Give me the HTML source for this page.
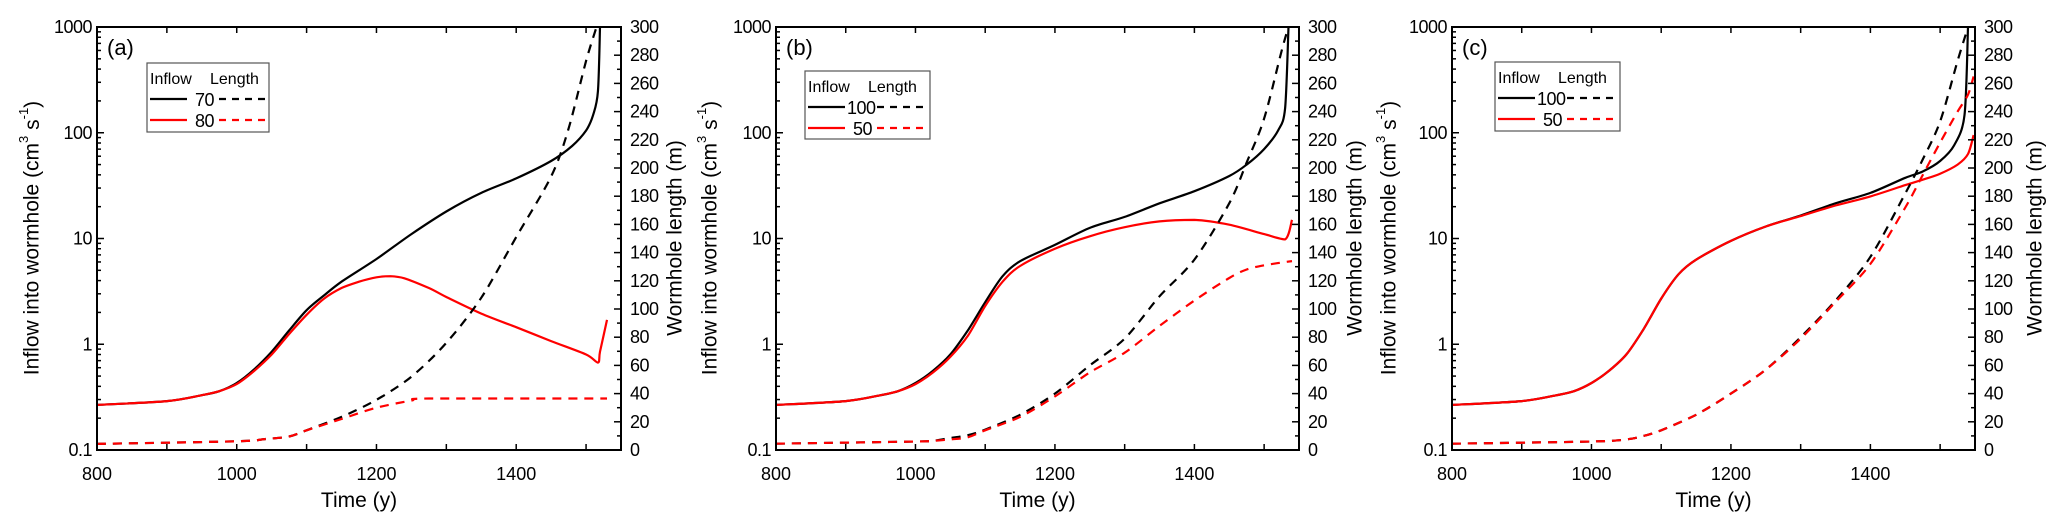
<!DOCTYPE html>
<html><head><meta charset="utf-8"><style>
body{margin:0;background:#fff;}
svg{display:block;font-family:"Liberation Sans",Arial,sans-serif;}
</style></head><body>
<svg id="chart" width="2067" height="531" viewBox="0 0 2067 531"></svg>
<script>
// Panel (a)
const aBlackInYears=[800,900,950,975,1000,1025,1050,1075,1100,1125,1150,1200,1250,1300,1350,1400,1450,1480,1500,1510,1517,1520];
const aBlackInVals=[0.267,0.29,0.33,0.36,0.43,0.58,0.85,1.35,2.1,2.9,3.9,6.4,11,18,27,37,54,75,105,147,245,1000];
const aRedInYears=[800,900,950,975,1000,1025,1050,1075,1100,1125,1150,1175,1200,1220,1240,1275,1300,1350,1400,1450,1500,1517,1520,1530];
const aRedInVals=[0.267,0.29,0.33,0.36,0.42,0.56,0.8,1.25,1.9,2.7,3.4,3.9,4.3,4.4,4.2,3.4,2.8,1.95,1.45,1.07,0.8,0.67,0.85,1.7];
const aBlackLenYears=[800,1000,1040,1075,1100,1150,1200,1250,1300,1350,1400,1450,1475,1500,1515];
const aBlackLenVals=[4.3,6.2,7.7,9.6,14,23.5,35.6,52,76,108,151,194,228,276,300];
const aRedLenYears=[800,1000,1040,1075,1100,1150,1200,1250,1275,1530];
const aRedLenVals=[4.3,6.2,7.7,9.6,14,22,30,35,36.5,36.5];
// Panel (b)
const bBlackInYears=[800,900,950,975,1000,1025,1050,1075,1100,1125,1150,1200,1250,1300,1350,1400,1450,1475,1500,1520,1530,1535];
const bBlackInVals=[0.267,0.29,0.33,0.36,0.43,0.56,0.8,1.35,2.5,4.4,6.1,8.7,12.6,16,21.5,28,39,50,70,105,170,1000];
const bRedInYears=[800,900,950,975,1000,1025,1050,1075,1100,1125,1150,1200,1250,1300,1350,1400,1450,1500,1530,1540];
const bRedInVals=[0.267,0.29,0.33,0.36,0.42,0.54,0.76,1.2,2.3,3.9,5.5,8.0,10.5,12.8,14.5,15,13.5,11,9.8,15];
const bBlackLenYears=[800,1000,1025,1050,1075,1100,1150,1200,1250,1300,1350,1400,1450,1475,1500,1525,1535];
const bBlackLenVals=[4.5,6,6.5,8.5,10.5,14.5,25,40,60,79,109,135,175,204,235,283,300];
const bRedLenYears=[800,1000,1025,1050,1075,1100,1150,1200,1250,1300,1350,1400,1450,1475,1500,1540];
const bRedLenVals=[4.5,6,6.5,7.5,9,14,23.5,38,55,69,88,106,122,128,131,134];
// Panel (c)
const cBlackInYears=[800,900,950,975,1000,1025,1050,1075,1100,1125,1150,1200,1250,1300,1350,1400,1450,1475,1500,1520,1535,1540];
const cBlackInVals=[0.267,0.29,0.33,0.36,0.43,0.56,0.8,1.4,2.7,4.6,6.3,9.5,13,16.5,21.5,27,37.5,43,54,76,147,1000];
const cRedInYears=[800,900,950,975,1000,1025,1050,1075,1100,1125,1150,1200,1250,1300,1350,1400,1450,1475,1500,1525,1540,1548];
const cRedInVals=[0.267,0.29,0.33,0.36,0.43,0.56,0.8,1.4,2.7,4.6,6.3,9.5,13,16.3,20.5,25,32,36,41,50,63,95];
const cBlackLenYears=[800,1000,1050,1075,1100,1150,1200,1250,1300,1350,1400,1450,1475,1500,1525,1540];
const cBlackLenVals=[4.5,6,7.5,10,14,25,40,57,80,106,137,182,206,233,276,300];
const cRedLenYears=[800,1000,1050,1075,1100,1150,1200,1250,1300,1350,1400,1450,1475,1500,1525,1540,1548];
const cRedLenVals=[4.5,6,7.5,10,14,25,40,57,79,105,132,172,195,218,240,252,265];

const xTicks=[800,1000,1200,1400];
const leftTicks=[0.1,1,10,100,1000];
const leftTickLabels=["0.1","1","10","100","1000"];
const rightTicks=[0,20,40,60,80,100,120,140,160,180,200,220,240,260,280,300];

const NS="http://www.w3.org/2000/svg";
const svg=document.getElementById('chart');
function mk(tag,attrs,parent){const e=document.createElementNS(NS,tag);for(const k in attrs)e.setAttribute(k,attrs[k]);(parent||svg).appendChild(e);return e;}
function smooth(P){
 let d='M'+P[0][0].toFixed(1)+','+P[0][1].toFixed(1);
 for(let i=0;i<P.length-1;i++){
  const p0=P[Math.max(0,i-1)],p1=P[i],p2=P[i+1],p3=P[Math.min(P.length-1,i+2)];
  const t=0.15;
  let c1y=p1[1]+(p2[1]-p0[1])*t, c2y=p2[1]-(p3[1]-p1[1])*t;
  const lo=Math.min(p1[1],p2[1]),hi=Math.max(p1[1],p2[1]);
  c1y=Math.min(hi,Math.max(lo,c1y));c2y=Math.min(hi,Math.max(lo,c2y));
  const c1x=p1[0]+(p2[0]-p0[0])*t, c2x=p2[0]-(p3[0]-p1[0])*t;
  d+=' C'+c1x.toFixed(1)+','+c1y.toFixed(1)+' '+c2x.toFixed(1)+','+c2y.toFixed(1)+' '+p2[0].toFixed(1)+','+p2[1].toFixed(1);
 }
 return d;
}

const panels=[
 {id:'a',L:97,R:621,lab:'(a)',yl:33,yr:676,leg:[147,63,122,69],names:['70','80'],
  series:[[aBlackInYears,aBlackInVals,'#000',0,'inflow-70'],[aRedInYears,aRedInVals,'#f00',0,'inflow-80'],[aBlackLenYears,aBlackLenVals,'#000',1,'length-70'],[aRedLenYears,aRedLenVals,'#f00',1,'length-80']]},
 {id:'b',L:776,R:1299,lab:'(b)',yl:711,yr:1356,leg:[805,71,125,68],names:['100','50'],
  series:[[bBlackInYears,bBlackInVals,'#000',0,'inflow-100'],[bRedInYears,bRedInVals,'#f00',0,'inflow-50'],[bBlackLenYears,bBlackLenVals,'#000',1,'length-100'],[bRedLenYears,bRedLenVals,'#f00',1,'length-50']]},
 {id:'c',L:1452,R:1975,lab:'(c)',yl:1390,yr:2036,leg:[1495,62,125,69],names:['100','50'],
  series:[[cBlackInYears,cBlackInVals,'#000',0,'inflow-100'],[cRedInYears,cRedInVals,'#f00',0,'inflow-50'],[cBlackLenYears,cBlackLenVals,'#000',1,'length-100'],[cRedLenYears,cRedLenVals,'#f00',1,'length-50']]}
];
const T=27,B=450;

panels.forEach(p=>{
 const g=mk('g',{});
 
 
 const xs=v=>p.L+(v-800)/(1550-800)*(p.R-p.L);
 const ysL=v=>B-(Math.log10(v)+1)/4*(B-T);
 const ysR=v=>B-v/300*(B-T);
 const cid='clip-'+p.id;
 const cp=mk('clipPath',{id:cid},g);
 mk('rect',{x:p.L,y:T-1,width:p.R-p.L,height:B-T+1},cp);
 p.series.forEach(s=>{
  const [xa,ya,col,right,nm]=s;
  const P=xa.map((x,i)=>[xs(x),right?ysR(ya[i]):ysL(ya[i])]);
  const pl=mk('path',{d:smooth(P),fill:'none',stroke:col,'stroke-width':2.2,'clip-path':'url(#'+cid+')','stroke-dasharray':right?'9,7':'none','stroke-linejoin':'round'},g);
  
  
 });
 const fr=mk('rect',{x:p.L,y:T,width:p.R-p.L,height:B-T,fill:'none',stroke:'#000','stroke-width':2},g);
 
 
 for(let v=800;v<=1500;v+=100){
  const x=xs(v);
  mk('line',{x1:x,x2:x,y1:B,y2:B-6,stroke:'#000','stroke-width':1.5},g);
  mk('line',{x1:x,x2:x,y1:T,y2:T+6,stroke:'#000','stroke-width':1.5},g);
 }
 xTicks.forEach(v=>{
  const t=mk('text',{x:xs(v),y:B+30,'text-anchor':'middle','font-size':18},g);t.textContent=v;
  
  
 });
 for(let d=-1;d<3;d++){for(let m=1;m<10;m++){const v=m*Math.pow(10,d);const y=ysL(v);
  mk('line',{x1:p.L,x2:p.L+(m==1?7:4),y1:y,y2:y,stroke:'#000','stroke-width':1.5},g);}}
 leftTicks.forEach((v,i)=>{
  const t=mk('text',{x:p.L-5,y:ysL(v)+6,'text-anchor':'end','font-size':18,'letter-spacing':'-0.5'},g);t.textContent=leftTickLabels[i];
  
  
 });
 for(let v=0;v<=300;v+=10){const y=ysR(v);mk('line',{x1:p.R,x2:p.R-(v%20==0?7:4),y1:y,y2:y,stroke:'#000','stroke-width':1.5},g);}
 rightTicks.forEach(v=>{
  const t=mk('text',{x:p.R+9,y:ysR(v)+6,'font-size':18,'letter-spacing':'-0.5'},g);t.textContent=v;
  
  
 });
 const xt=mk('text',{x:(p.L+p.R)/2,y:B+57,'text-anchor':'middle','font-size':21},g);xt.textContent='Time (y)';
 
 
 const yl=mk('text',{transform:'translate('+p.yl+',238) rotate(-90)','text-anchor':'middle','font-size':21,'dominant-baseline':'middle'},g);
 yl.innerHTML='Inflow into wormhole (cm<tspan dy="-8" font-size="13">3</tspan><tspan dy="8"> s</tspan><tspan dy="-8" font-size="13">-1</tspan><tspan dy="8">)</tspan>';
 
 
 const yr=mk('text',{transform:'translate('+p.yr+',238) rotate(-90)','text-anchor':'middle','font-size':21,'dominant-baseline':'middle'},g);
 yr.textContent='Wormhole length (m)';
 
 
 const pl=mk('text',{x:p.L+10,y:T+28,'font-size':22},g);pl.textContent=p.lab;
 
 
 const [lx,ly,lw,lh]=p.leg;
 const lg=mk('g',{},g);
 
 
 mk('rect',{x:lx,y:ly,width:lw,height:lh,fill:'#fff',stroke:'#555','stroke-width':1.2},lg);
 const h1=mk('text',{x:lx+3,y:ly+21,'font-size':16},lg);h1.textContent='Inflow';
 const h2=mk('text',{x:lx+63,y:ly+21,'font-size':16},lg);h2.textContent='Length';
 ['#000','#f00'].forEach((c,i)=>{
  const y=ly+36+i*21;
  mk('line',{x1:lx+3,x2:lx+40,y1:y,y2:y,stroke:c,'stroke-width':2.2},lg);
  const t=mk('text',{x:lx+(p.names[i].length>2?42:48),y:y+7,'font-size':18,'letter-spacing':'-0.5'},lg);t.textContent=p.names[i];
  
  
  mk('line',{x1:lx+72,x2:lx+lw-4,y1:y,y2:y,stroke:c,'stroke-width':2.2,'stroke-dasharray':'7,6'},lg);
 });
});
</script>
</body></html>
